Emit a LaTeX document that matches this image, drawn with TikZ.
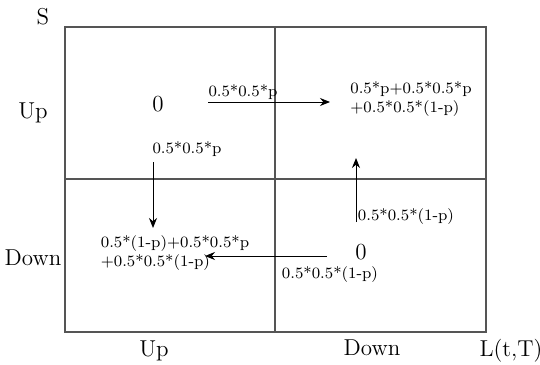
\documentclass[tikz,border=0pt]{standalone}
\usetikzlibrary{arrows.meta}
\definecolor{GridGray}{HTML}{555555}

\tikzset{
  biglabel/.style={inner sep=0pt,font=\fontsize{11.5}{13}\selectfont},
  prob/.style={inner sep=0pt,font=\fontsize{7.9}{9.4}\selectfont,align=left},
  flow/.style={draw=black,line width=0.5pt,-{Stealth[length=5pt,width=4pt]}}
}

\begin{document}
\begin{tikzpicture}[x=0.5pt,y=-0.5pt,draw=GridGray,line width=0.6pt]
  \useasboundingbox (0,0) rectangle (540,364);

  % grid of states
  \coordinate (nw) at (65,27);
  \coordinate (se) at (486,332);
  \draw (nw) rectangle (se);
  \draw (275,27) -- (275,332);
  \draw (65,179) -- (486,179);

  % axis names
  \node[biglabel] (axisS) at (43,17) {S};
  \node[biglabel] (axisL) at (511,351) {L(t,T)};
  \node[biglabel] (rowUp) at (33,113) {Up};
  \node[biglabel] (rowDown) at (33,258) {Down};
  \node[biglabel] (colUp) at (154,351) {Up};
  \node[biglabel] (colDown) at (372,348) {Down};

  % cell values
  \node[biglabel] (zeroUU) at (158,104) {0};
  \node[biglabel] (zeroDD) at (361,252) {0};
  \node[prob] (sumUD) at (411,99) {0.5*p+0.5*0.5*p\\+0.5*0.5*(1-p)};
  \node[prob] (sumDU) at (175,253) {0.5*(1-p)+0.5*0.5*p\\+0.5*0.5*(1-p)};

  % moves between cells
  \coordinate (uuRight) at (208,102);
  \coordinate (udLeft) at (330,102);
  \coordinate (uuDown) at (153,162);
  \coordinate (duTop) at (153,228);
  \coordinate (ddUp) at (356,222);
  \coordinate (udBottom) at (356,158);
  \coordinate (ddLeft) at (327,256);
  \coordinate (duRight) at (205,256);
  \draw[flow] (uuRight) -- (udLeft);
  \draw[flow] (uuDown) -- (duTop);
  \draw[flow] (ddUp) -- (udBottom);
  \draw[flow] (ddLeft) -- (duRight);

  \node[prob] (pRight) at (243,92) {0.5*0.5*p};
  \node[prob] (pDown) at (187,149) {0.5*0.5*p};
  \node[prob] (pUp) at (406,217) {0.5*0.5*(1-p)};
  \node[prob] (pLeft) at (330,275) {0.5*0.5*(1-p)};
\end{tikzpicture}
\end{document}
